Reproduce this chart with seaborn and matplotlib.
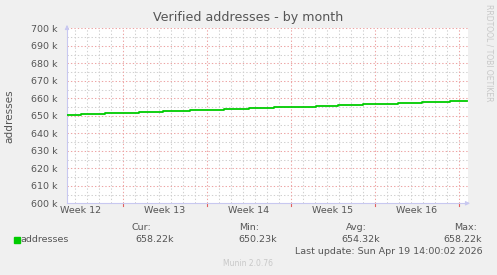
import matplotlib
matplotlib.use('Agg')
import matplotlib.pyplot as plt
import seaborn as sns
import pandas as pd
import numpy as np

# ---- data (days relative to Sun Apr 19 00:00, values in thousands) ----
step_days = [-32.63, -31.5, -29.5, -26.6, -24.6, -22.4, -19.6, -17.5, -15.4,
             -11.9, -10.1, -7.95, -5.1, -3.1, -0.78, 0.64]
addresses_k = [650.23, 650.8, 651.45, 652.2, 652.85, 653.25, 653.75, 654.3, 654.9,
               655.5, 656.05, 656.6, 657.2, 657.8, 658.22, 658.22]
week_labels = ['Week 12', 'Week 13', 'Week 14', 'Week 15', 'Week 16']
week_label_pos = [-31.5, -24.5, -17.5, -10.5, -3.5]
week_bounds = [-28, -21, -14, -7, 0]
y_ticks = [600, 610, 620, 630, 640, 650, 660, 670, 680, 690, 700]
y_tick_labels = [f'{v} k' for v in y_ticks]
legend_name = 'addresses'
stats_heads = ['Cur:', 'Min:', 'Avg:', 'Max:']
stats_vals = ['658.22k', '650.23k', '654.32k', '658.22k']

W, H = 497, 275
BG = '#F0F0F0'
TXT = '#555555'
AXC = '#C8C8F0'
FS = 6.8

plt.rcParams['font.family'] = ['DejaVu Sans']
fig = plt.figure(figsize=(W / 100, H / 100), dpi=100, facecolor=BG)
x0, x1, ytop, ybot = 67, 468, 28.3, 203.3
ax = fig.add_axes([x0 / W, 1 - ybot / H, (x1 - x0) / W, (ybot - ytop) / H])
ax.set_facecolor('white')

xmin, xmax = -32.63, 0.75
ax.set_xlim(xmin, xmax)
ax.set_ylim(600, 700)

# grid
for d in np.arange(-32, 1, 1):
    if d in week_bounds:
        continue
    ax.axvline(d, color='#D0D0D0', lw=0.75, ls=(0, (1.3, 2)), zorder=1)
for v in np.arange(605, 700, 10):
    ax.axhline(v, color='#D0D0D0', lw=0.75, ls=(0, (1.3, 2)), zorder=1)
for d in week_bounds:
    ax.axvline(d, color='#EDA4A4', lw=0.75, ls=(0, (1.3, 2)), zorder=2)
for v in y_ticks[1:]:
    ax.axhline(v, color='#EDA4A4', lw=0.75, ls=(0, (1.3, 2)), zorder=2)

df = pd.DataFrame({'day': step_days, 'value': addresses_k})
sns.lineplot(data=df, x='day', y='value', ax=ax, color='#00CC00', lw=1.3,
             drawstyle='steps-post', zorder=5, legend=False)

ax.set_yticks(y_ticks)
ax.set_yticklabels(y_tick_labels)
ax.set_xticks(week_label_pos)
ax.set_xticklabels(week_labels)
ax.tick_params(axis='both', length=0, labelsize=FS, colors=TXT, pad=2)
ax.tick_params(axis='y', pad=7)
ax.set_xlabel('')
ax.set_ylabel('addresses', fontsize=7.6, color=TXT, labelpad=12)
for s in ['top', 'right']:
    ax.spines[s].set_visible(False)
for s in ['left', 'bottom']:
    ax.spines[s].set_color(AXC)
    ax.spines[s].set_linewidth(0.8)

# red tick marks below x axis at week boundaries
for d in week_bounds:
    ax.plot([d, d], [0, -0.015], transform=ax.get_xaxis_transform(),
            color='#E06060', lw=0.8, clip_on=False)

# axis arrows
ax.annotate('', xy=(1.012, 0), xytext=(0.99, 0), xycoords='axes fraction',
            arrowprops=dict(arrowstyle='-|>', color=AXC, lw=0.8, mutation_scale=6))
ax.annotate('', xy=(0, 1.035), xytext=(0, 0.99), xycoords='axes fraction',
            arrowprops=dict(arrowstyle='-|>', color=AXC, lw=0.8, mutation_scale=6))

# title
fig.text(248.5 / W, 1 - 18 / H, 'Verified addresses - by month', ha='center', va='center',
         fontsize=9.1, color=TXT)
# side text
fig.text(489 / W, 1 - 53 / H, 'RRDTOOL / TOBI OETIKER', rotation=270, ha='center',
         va='center', fontsize=5.5, color='#C8C8C8')

# legend
fig.patches.append(plt.Rectangle((14 / W, 1 - 243 / H), 6 / W, 6 / H, transform=fig.transFigure,
                                 color='#00CC00'))
fig.text(20.5 / W, 1 - 240 / H, legend_name, ha='left', va='center', fontsize=FS, color=TXT)
head_right = [151.7, 259, 366.7, 476.7]
val_right = [174, 276.7, 380, 482.3]
for h, v, hr, vr in zip(stats_heads, stats_vals, head_right, val_right):
    fig.text(hr / W, 1 - 228 / H, h, ha='right', va='center', fontsize=FS, color=TXT)
    fig.text(vr / W, 1 - 240 / H, v, ha='right', va='center', fontsize=FS, color=TXT)
fig.text(482.7 / W, 1 - 251.5 / H, 'Last update: Sun Apr 19 14:00:02 2026', ha='right',
         va='center', fontsize=FS, color=TXT)
fig.text(248 / W, 1 - 264 / H, 'Munin 2.0.76', ha='center', va='center', fontsize=5.5,
         color='#C8C8C8')

fig.savefig('out.png', dpi=100, facecolor=BG)
